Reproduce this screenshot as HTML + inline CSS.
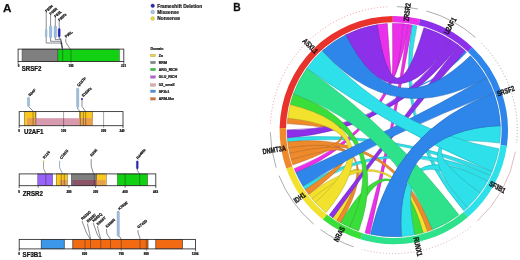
<!DOCTYPE html><html><head><meta charset="utf-8"><title>Figure</title><style>html,body{margin:0;padding:0;background:#fff}body{width:520px;height:260px;overflow:hidden;font-family:"Liberation Sans",sans-serif}</style></head><body><svg width="520" height="260" viewBox="0 0 520 260" style="display:block;filter:blur(0.3px)">
<rect width="520" height="260" fill="#fff"/>
<g font-family="Liberation Sans, Arial, sans-serif">
<text x="3" y="11.5" font-size="11.7" font-weight="bold" text-anchor="start" fill="#111" stroke="#111" stroke-width="0.25" stroke-linejoin="round">A</text>
<text  transform="translate(233.3 11.2) scale(0.92 1)" font-size="11.2" font-weight="bold" text-anchor="start" fill="#111" stroke="#111" stroke-width="0.25" stroke-linejoin="round">B</text>
<circle cx="152.7" cy="5.8" r="1.75" fill="#2a2ab4" stroke="#20208c" stroke-width="0.5"/>
<text x="157.3" y="7.5" font-size="4.8" font-weight="bold" text-anchor="start" fill="#222" stroke="#111" stroke-width="0.2" stroke-linejoin="round">Frameshift Deletion</text>
<circle cx="152.7" cy="12.0" r="1.75" fill="#aecbee" stroke="#6484a8" stroke-width="0.5"/>
<text x="157.3" y="13.7" font-size="4.8" font-weight="bold" text-anchor="start" fill="#222" stroke="#111" stroke-width="0.2" stroke-linejoin="round">Missense</text>
<circle cx="152.7" cy="18.5" r="1.75" fill="#f2e22c" stroke="#a09a30" stroke-width="0.5"/>
<text x="157.3" y="20.2" font-size="4.8" font-weight="bold" text-anchor="start" fill="#222" stroke="#111" stroke-width="0.2" stroke-linejoin="round">Nonsense</text>
<text x="150.5" y="50" font-size="3.5" font-weight="bold" text-anchor="start" fill="#222" stroke="#111" stroke-width="0.22" stroke-linejoin="round">Domain</text>
<rect x="150.5" y="54.2" width="5" height="2.6" fill="#f7d23c" stroke="#888" stroke-width="0.3"/>
<text x="158.7" y="56.8" font-size="3.6" font-weight="bold" text-anchor="start" fill="#222" stroke="#111" stroke-width="0.22" stroke-linejoin="round">Zn</text>
<rect x="150.5" y="61.2" width="5" height="2.6" fill="#7c848c" stroke="#888" stroke-width="0.3"/>
<text x="158.7" y="63.8" font-size="3.6" font-weight="bold" text-anchor="start" fill="#222" stroke="#111" stroke-width="0.22" stroke-linejoin="round">RRM</text>
<rect x="150.5" y="68.2" width="5" height="2.6" fill="#2cc43c" stroke="#888" stroke-width="0.3"/>
<text x="158.7" y="70.8" font-size="3.6" font-weight="bold" text-anchor="start" fill="#222" stroke="#111" stroke-width="0.22" stroke-linejoin="round">ARG_RICH</text>
<rect x="150.5" y="75.7" width="5" height="2.6" fill="#bc58e2" stroke="#888" stroke-width="0.3"/>
<text x="158.7" y="78.3" font-size="3.6" font-weight="bold" text-anchor="start" fill="#222" stroke="#111" stroke-width="0.22" stroke-linejoin="round">GLU_RICH</text>
<rect x="150.5" y="83.7" width="5" height="2.6" fill="#e2aaa2" stroke="#888" stroke-width="0.3"/>
<text x="158.7" y="86.3" font-size="3.6" font-weight="bold" text-anchor="start" fill="#222" stroke="#111" stroke-width="0.22" stroke-linejoin="round">U2_small</text>
<rect x="150.5" y="90" width="5" height="2.6" fill="#3f92e4" stroke="#888" stroke-width="0.3"/>
<text x="158.7" y="92.6" font-size="3.6" font-weight="bold" text-anchor="start" fill="#222" stroke="#111" stroke-width="0.22" stroke-linejoin="round">SF3b1</text>
<rect x="150.5" y="97.5" width="5" height="2.6" fill="#e2702c" stroke="#888" stroke-width="0.3"/>
<text x="158.7" y="100.1" font-size="3.6" font-weight="bold" text-anchor="start" fill="#222" stroke="#111" stroke-width="0.22" stroke-linejoin="round">ARM-like</text>
<rect x="18.1" y="49.1" width="105.7" height="12.4" fill="#fff"/>
<rect x="22" y="49.1" width="35.9" height="12.4" fill="#7f7f7f" stroke="#2b2b33" stroke-width="0.35"/>
<rect x="57.9" y="49.1" width="61.6" height="12.4" fill="#12d012" stroke="#2b2b33" stroke-width="0.35"/>
<rect x="18.1" y="49.1" width="105.7" height="12.4" fill="none" stroke="#2a2a2a" stroke-width="0.85"/>
<line x1="62.7" y1="49.1" x2="62.7" y2="61.5" stroke="#1a3" stroke-width="0.4"/>
<line x1="62.7" y1="49.1" x2="62.7" y2="61.5" stroke="#222" stroke-width="0.35"/>
<line x1="71" y1="49.1" x2="71" y2="63.5" stroke="#222" stroke-width="0.4"/>
<line x1="18.1" y1="61.5" x2="18.1" y2="63.9" stroke="#222" stroke-width="0.7"/>
<line x1="123.8" y1="61.5" x2="123.8" y2="63.9" stroke="#222" stroke-width="0.7"/>
<text x="18.6" y="66.8" font-size="3.0" font-weight="bold" text-anchor="middle" fill="#111" stroke="#111" stroke-width="0.22" stroke-linejoin="round">0</text>
<text x="71" y="66.6" font-size="3.0" font-weight="bold" text-anchor="middle" fill="#111" stroke="#111" stroke-width="0.22" stroke-linejoin="round">100</text>
<text x="123.6" y="66.6" font-size="3.0" font-weight="bold" text-anchor="middle" fill="#111" stroke="#111" stroke-width="0.22" stroke-linejoin="round">221</text>
<text  transform="translate(21.7 71.2) scale(0.93 1)" font-size="6.6" font-weight="bold" text-anchor="start" fill="#111" stroke="#111" stroke-width="0.25" stroke-linejoin="round">SRSF2</text>
<polyline points="46.2,12.3 46.2,43 60.8,43 62.6,49.1" fill="none" stroke="#3c4250" stroke-width="0.6"/>
<rect x="45.35" y="29.2" width="1.7" height="7.8" rx="0.85" fill="#b9cfe6" stroke="#6f8fb0" stroke-width="0.35"/><line x1="45.35" y1="30.5" x2="47.05" y2="30.5" stroke="#6f8fb0" stroke-width="0.25" stroke-opacity="0.7"/><line x1="45.35" y1="31.8" x2="47.05" y2="31.8" stroke="#6f8fb0" stroke-width="0.25" stroke-opacity="0.7"/><line x1="45.35" y1="33.1" x2="47.05" y2="33.1" stroke="#6f8fb0" stroke-width="0.25" stroke-opacity="0.7"/><line x1="45.35" y1="34.4" x2="47.05" y2="34.4" stroke="#6f8fb0" stroke-width="0.25" stroke-opacity="0.7"/><line x1="45.35" y1="35.7" x2="47.05" y2="35.7" stroke="#6f8fb0" stroke-width="0.25" stroke-opacity="0.7"/>
<text  transform="translate(46.4 12.5) rotate(-41)" font-size="3.7" font-weight="bold" text-anchor="start" fill="#222" stroke="#111" stroke-width="0.22" stroke-linejoin="round">P95H</text>
<polyline points="50.6,15 50.6,41.3 60.8,41.3 62.6,49.1" fill="none" stroke="#3c4250" stroke-width="0.6"/>
<rect x="49.45" y="25.8" width="2.3" height="12.1" rx="1.15" fill="#a9c6e6" stroke="#5f86b4" stroke-width="0.35"/><line x1="49.45" y1="27.14" x2="51.75" y2="27.14" stroke="#5f86b4" stroke-width="0.25" stroke-opacity="0.7"/><line x1="49.45" y1="28.49" x2="51.75" y2="28.49" stroke="#5f86b4" stroke-width="0.25" stroke-opacity="0.7"/><line x1="49.45" y1="29.83" x2="51.75" y2="29.83" stroke="#5f86b4" stroke-width="0.25" stroke-opacity="0.7"/><line x1="49.45" y1="31.18" x2="51.75" y2="31.18" stroke="#5f86b4" stroke-width="0.25" stroke-opacity="0.7"/><line x1="49.45" y1="32.52" x2="51.75" y2="32.52" stroke="#5f86b4" stroke-width="0.25" stroke-opacity="0.7"/><line x1="49.45" y1="33.87" x2="51.75" y2="33.87" stroke="#5f86b4" stroke-width="0.25" stroke-opacity="0.7"/><line x1="49.45" y1="35.21" x2="51.75" y2="35.21" stroke="#5f86b4" stroke-width="0.25" stroke-opacity="0.7"/><line x1="49.45" y1="36.56" x2="51.75" y2="36.56" stroke="#5f86b4" stroke-width="0.25" stroke-opacity="0.7"/>
<text  transform="translate(50.8 15.2) rotate(-41)" font-size="3.7" font-weight="bold" text-anchor="start" fill="#222" stroke="#111" stroke-width="0.22" stroke-linejoin="round">P95R</text>
<polyline points="55.3,17.6 55.3,39.6 60.8,39.6 62.6,49.1" fill="none" stroke="#3c4250" stroke-width="0.6"/>
<rect x="54.15" y="25.8" width="2.3" height="12.1" rx="1.15" fill="#a9c6e6" stroke="#5f86b4" stroke-width="0.35"/><line x1="54.15" y1="27.14" x2="56.45" y2="27.14" stroke="#5f86b4" stroke-width="0.25" stroke-opacity="0.7"/><line x1="54.15" y1="28.49" x2="56.45" y2="28.49" stroke="#5f86b4" stroke-width="0.25" stroke-opacity="0.7"/><line x1="54.15" y1="29.83" x2="56.45" y2="29.83" stroke="#5f86b4" stroke-width="0.25" stroke-opacity="0.7"/><line x1="54.15" y1="31.18" x2="56.45" y2="31.18" stroke="#5f86b4" stroke-width="0.25" stroke-opacity="0.7"/><line x1="54.15" y1="32.52" x2="56.45" y2="32.52" stroke="#5f86b4" stroke-width="0.25" stroke-opacity="0.7"/><line x1="54.15" y1="33.87" x2="56.45" y2="33.87" stroke="#5f86b4" stroke-width="0.25" stroke-opacity="0.7"/><line x1="54.15" y1="35.21" x2="56.45" y2="35.21" stroke="#5f86b4" stroke-width="0.25" stroke-opacity="0.7"/><line x1="54.15" y1="36.56" x2="56.45" y2="36.56" stroke="#5f86b4" stroke-width="0.25" stroke-opacity="0.7"/>
<text  transform="translate(55.5 17.8) rotate(-41)" font-size="3.7" font-weight="bold" text-anchor="start" fill="#222" stroke="#111" stroke-width="0.22" stroke-linejoin="round">P95L</text>
<polyline points="59.2,21.2 59.2,38.7 60.8,38.7 62.6,49.1" fill="none" stroke="#3c4250" stroke-width="0.6"/>
<rect x="58.2" y="28.4" width="2" height="8.6" rx="1" fill="#2a2ac4" stroke="#1a1a90" stroke-width="0.35"/><line x1="58.2" y1="29.83" x2="60.2" y2="29.83" stroke="#1a1a90" stroke-width="0.25" stroke-opacity="0.7"/><line x1="58.2" y1="31.27" x2="60.2" y2="31.27" stroke="#1a1a90" stroke-width="0.25" stroke-opacity="0.7"/><line x1="58.2" y1="32.7" x2="60.2" y2="32.7" stroke="#1a1a90" stroke-width="0.25" stroke-opacity="0.7"/><line x1="58.2" y1="34.13" x2="60.2" y2="34.13" stroke="#1a1a90" stroke-width="0.25" stroke-opacity="0.7"/><line x1="58.2" y1="35.57" x2="60.2" y2="35.57" stroke="#1a1a90" stroke-width="0.25" stroke-opacity="0.7"/>
<text  transform="translate(59.4 21.4) rotate(-41)" font-size="3.7" font-weight="bold" text-anchor="start" fill="#222" stroke="#111" stroke-width="0.22" stroke-linejoin="round">P95fs</text>
<circle cx="61.6" cy="43.2" r="0.7" fill="#223"/>
<polyline points="70.2,49.1 65.8,42.2 65.8,38.7" fill="none" stroke="#3c4250" stroke-width="0.6"/>
<text  transform="translate(66 38) rotate(-38)" font-size="3.7" font-weight="bold" text-anchor="start" fill="#222" stroke="#111" stroke-width="0.22" stroke-linejoin="round">P96L</text>
<rect x="19.2" y="111.6" width="103.8" height="14.1" fill="#fff"/>
<rect x="24.3" y="111.6" width="11.6" height="14.1" fill="#fcc81e" stroke="#2b2b33" stroke-width="0.35"/>
<rect x="79.3" y="111.6" width="13.4" height="14.1" fill="#fcc81e" stroke="#2b2b33" stroke-width="0.35"/>
<rect x="27.3" y="118.2" width="65.4" height="7.5" fill="#d79aae"/>
<rect x="27.3" y="118.2" width="8.6" height="7.5" fill="#e9a04c"/>
<rect x="79.3" y="118.2" width="13.4" height="7.5" fill="#e9a04c"/>
<rect x="19.2" y="111.6" width="103.8" height="14.1" fill="none" stroke="#2a2a2a" stroke-width="0.85"/>
<line x1="33.1" y1="111.6" x2="33.1" y2="125.7" stroke="#222" stroke-width="0.4"/>
<line x1="35.9" y1="111.6" x2="35.9" y2="125.7" stroke="#222" stroke-width="0.4"/>
<line x1="80.4" y1="111.6" x2="80.4" y2="125.7" stroke="#222" stroke-width="0.4"/>
<line x1="83.4" y1="111.6" x2="83.4" y2="125.7" stroke="#222" stroke-width="0.4"/>
<line x1="85.7" y1="111.6" x2="85.7" y2="125.7" stroke="#222" stroke-width="0.4"/>
<line x1="63.6" y1="111.6" x2="63.6" y2="127.7" stroke="#222" stroke-width="0.4"/>
<line x1="103.6" y1="111.6" x2="103.6" y2="127.7" stroke="#222" stroke-width="0.4"/>
<line x1="19.2" y1="125.7" x2="19.2" y2="128.1" stroke="#222" stroke-width="0.7"/>
<line x1="123" y1="125.7" x2="123" y2="128.1" stroke="#222" stroke-width="0.7"/>
<text x="19.2" y="131.6" font-size="3.0" font-weight="bold" text-anchor="middle" fill="#111" stroke="#111" stroke-width="0.22" stroke-linejoin="round">0</text>
<text x="63.6" y="131.6" font-size="3.0" font-weight="bold" text-anchor="middle" fill="#111" stroke="#111" stroke-width="0.22" stroke-linejoin="round">100</text>
<text x="103.6" y="131.6" font-size="3.0" font-weight="bold" text-anchor="middle" fill="#111" stroke="#111" stroke-width="0.22" stroke-linejoin="round">200</text>
<text x="122" y="131.6" font-size="3.0" font-weight="bold" text-anchor="middle" fill="#111" stroke="#111" stroke-width="0.22" stroke-linejoin="round">240</text>
<text  transform="translate(24 133.9) scale(0.93 1)" font-size="6.6" font-weight="bold" text-anchor="start" fill="#111" stroke="#111" stroke-width="0.25" stroke-linejoin="round">U2AF1</text>
<polyline points="28.5,106.5 33.6,111.6" fill="none" stroke="#3c4250" stroke-width="0.6"/>
<rect x="27.45" y="97.2" width="2.1" height="9.4" rx="1.05" fill="#a9c6e6" stroke="#6f8fb0" stroke-width="0.35"/><line x1="27.45" y1="98.54" x2="29.55" y2="98.54" stroke="#6f8fb0" stroke-width="0.25" stroke-opacity="0.7"/><line x1="27.45" y1="99.89" x2="29.55" y2="99.89" stroke="#6f8fb0" stroke-width="0.25" stroke-opacity="0.7"/><line x1="27.45" y1="101.23" x2="29.55" y2="101.23" stroke="#6f8fb0" stroke-width="0.25" stroke-opacity="0.7"/><line x1="27.45" y1="102.57" x2="29.55" y2="102.57" stroke="#6f8fb0" stroke-width="0.25" stroke-opacity="0.7"/><line x1="27.45" y1="103.91" x2="29.55" y2="103.91" stroke="#6f8fb0" stroke-width="0.25" stroke-opacity="0.7"/><line x1="27.45" y1="105.26" x2="29.55" y2="105.26" stroke="#6f8fb0" stroke-width="0.25" stroke-opacity="0.7"/>
<text  transform="translate(29.8 96.6) rotate(-44)" font-size="3.7" font-weight="bold" text-anchor="start" fill="#222" stroke="#111" stroke-width="0.22" stroke-linejoin="round">S34F</text>
<polyline points="77.7,107.7 77.7,109.2 80.4,111.6" fill="none" stroke="#3c4250" stroke-width="0.6"/>
<rect x="76.6" y="88" width="2.2" height="19.7" rx="1.1" fill="#a9c6e6" stroke="#6f8fb0" stroke-width="0.35"/><line x1="76.6" y1="89.31" x2="78.8" y2="89.31" stroke="#6f8fb0" stroke-width="0.25" stroke-opacity="0.7"/><line x1="76.6" y1="90.63" x2="78.8" y2="90.63" stroke="#6f8fb0" stroke-width="0.25" stroke-opacity="0.7"/><line x1="76.6" y1="91.94" x2="78.8" y2="91.94" stroke="#6f8fb0" stroke-width="0.25" stroke-opacity="0.7"/><line x1="76.6" y1="93.25" x2="78.8" y2="93.25" stroke="#6f8fb0" stroke-width="0.25" stroke-opacity="0.7"/><line x1="76.6" y1="94.57" x2="78.8" y2="94.57" stroke="#6f8fb0" stroke-width="0.25" stroke-opacity="0.7"/><line x1="76.6" y1="95.88" x2="78.8" y2="95.88" stroke="#6f8fb0" stroke-width="0.25" stroke-opacity="0.7"/><line x1="76.6" y1="97.19" x2="78.8" y2="97.19" stroke="#6f8fb0" stroke-width="0.25" stroke-opacity="0.7"/><line x1="76.6" y1="98.51" x2="78.8" y2="98.51" stroke="#6f8fb0" stroke-width="0.25" stroke-opacity="0.7"/><line x1="76.6" y1="99.82" x2="78.8" y2="99.82" stroke="#6f8fb0" stroke-width="0.25" stroke-opacity="0.7"/><line x1="76.6" y1="101.13" x2="78.8" y2="101.13" stroke="#6f8fb0" stroke-width="0.25" stroke-opacity="0.7"/><line x1="76.6" y1="102.45" x2="78.8" y2="102.45" stroke="#6f8fb0" stroke-width="0.25" stroke-opacity="0.7"/><line x1="76.6" y1="103.76" x2="78.8" y2="103.76" stroke="#6f8fb0" stroke-width="0.25" stroke-opacity="0.7"/><line x1="76.6" y1="105.07" x2="78.8" y2="105.07" stroke="#6f8fb0" stroke-width="0.25" stroke-opacity="0.7"/><line x1="76.6" y1="106.39" x2="78.8" y2="106.39" stroke="#6f8fb0" stroke-width="0.25" stroke-opacity="0.7"/>
<text  transform="translate(78.4 86.8) rotate(-45)" font-size="3.7" font-weight="bold" text-anchor="start" fill="#222" stroke="#111" stroke-width="0.22" stroke-linejoin="round">Q157P</text>
<polyline points="82,98.9 82,106.5 85.7,111.6" fill="none" stroke="#3c4250" stroke-width="0.6"/>
<circle cx="82" cy="98.9" r="1.0" fill="#2a2ac4"/>
<text  transform="translate(83.2 97) rotate(-43)" font-size="3.7" font-weight="bold" text-anchor="start" fill="#222" stroke="#111" stroke-width="0.22" stroke-linejoin="round">E159fs</text>
<rect x="19.2" y="173.9" width="136.6" height="11.8" fill="#fff"/>
<rect x="37.7" y="173.9" width="15" height="11.8" fill="#9a63f7" stroke="#2b2b33" stroke-width="0.35"/>
<rect x="56.2" y="173.9" width="11.1" height="11.8" fill="#fcc81e" stroke="#2b2b33" stroke-width="0.35"/>
<rect x="59.7" y="180" width="7.6" height="5.7" fill="#e9a04c"/>
<rect x="71.2" y="173.9" width="25.4" height="11.8" fill="#7f7f7f" stroke="#2b2b33" stroke-width="0.35"/>
<rect x="72.4" y="180" width="24.2" height="5.7" fill="#8a5466"/>
<rect x="96.6" y="173.9" width="9.6" height="11.8" fill="#fcc81e" stroke="#2b2b33" stroke-width="0.35"/>
<rect x="96.6" y="180" width="8.7" height="5.7" fill="#e9a04c"/>
<rect x="117.3" y="173.9" width="30.4" height="11.8" fill="#12d012" stroke="#2b2b33" stroke-width="0.35"/>
<rect x="19.2" y="173.9" width="136.6" height="11.8" fill="none" stroke="#2a2a2a" stroke-width="0.85"/>
<line x1="45.8" y1="173.9" x2="45.8" y2="185.7" stroke="#222" stroke-width="0.4"/>
<line x1="61.3" y1="173.9" x2="61.3" y2="185.7" stroke="#222" stroke-width="0.4"/>
<line x1="64.3" y1="173.9" x2="64.3" y2="185.7" stroke="#222" stroke-width="0.4"/>
<line x1="94.3" y1="173.9" x2="94.3" y2="185.7" stroke="#222" stroke-width="0.4"/>
<line x1="139.7" y1="173.9" x2="139.7" y2="185.7" stroke="#222" stroke-width="0.4"/>
<line x1="38.2" y1="185.7" x2="38.2" y2="187.9" stroke="#222" stroke-width="0.6"/>
<line x1="68.9" y1="185.7" x2="68.9" y2="187.9" stroke="#222" stroke-width="0.6"/>
<line x1="95.6" y1="185.7" x2="95.6" y2="187.9" stroke="#222" stroke-width="0.6"/>
<line x1="125.1" y1="185.7" x2="125.1" y2="187.9" stroke="#222" stroke-width="0.6"/>
<line x1="125.1" y1="173.9" x2="125.1" y2="185.7" stroke="#222" stroke-width="0.4"/>
<line x1="19.2" y1="185.7" x2="19.2" y2="188.1" stroke="#222" stroke-width="0.7"/>
<line x1="155.8" y1="185.7" x2="155.8" y2="188.1" stroke="#222" stroke-width="0.7"/>
<text x="19.2" y="192.8" font-size="3.0" font-weight="bold" text-anchor="middle" fill="#111" stroke="#111" stroke-width="0.22" stroke-linejoin="round">0</text>
<text x="68.9" y="192.8" font-size="3.0" font-weight="bold" text-anchor="middle" fill="#111" stroke="#111" stroke-width="0.22" stroke-linejoin="round">200</text>
<text x="95.6" y="192.8" font-size="3.0" font-weight="bold" text-anchor="middle" fill="#111" stroke="#111" stroke-width="0.22" stroke-linejoin="round">300</text>
<text x="125.1" y="192.8" font-size="3.0" font-weight="bold" text-anchor="middle" fill="#111" stroke="#111" stroke-width="0.22" stroke-linejoin="round">400</text>
<text x="155.6" y="192.8" font-size="3.0" font-weight="bold" text-anchor="middle" fill="#111" stroke="#111" stroke-width="0.22" stroke-linejoin="round">482</text>
<text  transform="translate(22.8 195.7) scale(0.93 1)" font-size="6.6" font-weight="bold" text-anchor="start" fill="#111" stroke="#111" stroke-width="0.25" stroke-linejoin="round">ZRSR2</text>
<polyline points="43.5,160.8 43.5,168.5 46,173.9" fill="none" stroke="#6a6a58" stroke-width="0.6"/>
<circle cx="43.5" cy="161.2" r="0.8" fill="#f3e32a" stroke="#aa9" stroke-width="0.2"/>
<text  transform="translate(44.6 159) rotate(-50)" font-size="3.7" font-weight="bold" text-anchor="start" fill="#222" stroke="#111" stroke-width="0.22" stroke-linejoin="round">R126</text>
<polyline points="59.6,160.8 59.6,167.7 62.7,173.9" fill="none" stroke="#5070a0" stroke-width="0.6"/>
<text  transform="translate(61.4 159.4) rotate(-50)" font-size="3.7" font-weight="bold" text-anchor="start" fill="#222" stroke="#111" stroke-width="0.22" stroke-linejoin="round">C181S</text>
<polyline points="91.2,159.2 91.2,166.2 93.6,173.9" fill="none" stroke="#3c4250" stroke-width="0.6"/>
<text  transform="translate(91.8 156.8) rotate(-48)" font-size="3.7" font-weight="bold" text-anchor="start" fill="#222" stroke="#111" stroke-width="0.22" stroke-linejoin="round">R295</text>
<polyline points="137.3,168.9 137.3,170.5 139.7,173.9" fill="none" stroke="#3c4250" stroke-width="0.6"/>
<rect x="136.4" y="160.8" width="1.8" height="8.1" rx="0.9" fill="#2a2ac4" stroke="#1a1a90" stroke-width="0.35"/><line x1="136.4" y1="162.15" x2="138.2" y2="162.15" stroke="#1a1a90" stroke-width="0.25" stroke-opacity="0.7"/><line x1="136.4" y1="163.5" x2="138.2" y2="163.5" stroke="#1a1a90" stroke-width="0.25" stroke-opacity="0.7"/><line x1="136.4" y1="164.85" x2="138.2" y2="164.85" stroke="#1a1a90" stroke-width="0.25" stroke-opacity="0.7"/><line x1="136.4" y1="166.2" x2="138.2" y2="166.2" stroke="#1a1a90" stroke-width="0.25" stroke-opacity="0.7"/><line x1="136.4" y1="167.55" x2="138.2" y2="167.55" stroke="#1a1a90" stroke-width="0.25" stroke-opacity="0.7"/>
<text  transform="translate(137.9 159.4) rotate(-49)" font-size="3.7" font-weight="bold" text-anchor="start" fill="#222" stroke="#111" stroke-width="0.22" stroke-linejoin="round">R448fs</text>
<rect x="19.2" y="239.4" width="176.3" height="9.5" fill="#fff"/>
<rect x="41.2" y="239.4" width="23.1" height="9.5" fill="#3c96ea" stroke="#2b2b33" stroke-width="0.35"/>
<rect x="72.8" y="239.4" width="75.2" height="9.5" fill="#f26a12" stroke="#2b2b33" stroke-width="0.35"/>
<rect x="155.8" y="239.4" width="26.7" height="9.5" fill="#f26a12" stroke="#2b2b33" stroke-width="0.35"/>
<rect x="19.2" y="239.4" width="176.3" height="9.5" fill="none" stroke="#2a2a2a" stroke-width="0.85"/>
<line x1="41.2" y1="239.4" x2="41.2" y2="248.9" stroke="#222" stroke-width="0.35"/>
<line x1="64.3" y1="239.4" x2="64.3" y2="248.9" stroke="#222" stroke-width="0.35"/>
<line x1="72.8" y1="239.4" x2="72.8" y2="248.9" stroke="#222" stroke-width="0.35"/>
<line x1="148" y1="239.4" x2="148" y2="248.9" stroke="#222" stroke-width="0.35"/>
<line x1="155.8" y1="239.4" x2="155.8" y2="248.9" stroke="#222" stroke-width="0.35"/>
<line x1="182.5" y1="239.4" x2="182.5" y2="248.9" stroke="#222" stroke-width="0.35"/>
<line x1="90.5" y1="239.4" x2="90.5" y2="248.9" stroke="#222" stroke-width="0.4"/>
<line x1="100.75" y1="239.4" x2="100.75" y2="248.9" stroke="#222" stroke-width="0.4"/>
<line x1="110.5" y1="239.4" x2="110.5" y2="248.9" stroke="#222" stroke-width="0.4"/>
<line x1="140" y1="239.4" x2="140" y2="248.9" stroke="#222" stroke-width="0.4"/>
<line x1="85" y1="239.4" x2="85" y2="250.9" stroke="#222" stroke-width="0.4"/>
<line x1="121.25" y1="239.4" x2="121.25" y2="250.9" stroke="#222" stroke-width="0.4"/>
<line x1="146.25" y1="239.4" x2="146.25" y2="250.9" stroke="#222" stroke-width="0.4"/>
<line x1="19.2" y1="248.9" x2="19.2" y2="251.3" stroke="#222" stroke-width="0.7"/>
<line x1="195.5" y1="248.9" x2="195.5" y2="251.3" stroke="#222" stroke-width="0.7"/>
<text x="19.2" y="254.6" font-size="3.0" font-weight="bold" text-anchor="middle" fill="#111" stroke="#111" stroke-width="0.22" stroke-linejoin="round">0</text>
<text x="84.6" y="254.6" font-size="3.0" font-weight="bold" text-anchor="middle" fill="#111" stroke="#111" stroke-width="0.22" stroke-linejoin="round">600</text>
<text x="121.25" y="254.6" font-size="3.0" font-weight="bold" text-anchor="middle" fill="#111" stroke="#111" stroke-width="0.22" stroke-linejoin="round">700</text>
<text x="146.25" y="254.6" font-size="3.0" font-weight="bold" text-anchor="middle" fill="#111" stroke="#111" stroke-width="0.22" stroke-linejoin="round">800</text>
<text x="195" y="254.6" font-size="3.0" font-weight="bold" text-anchor="middle" fill="#111" stroke="#111" stroke-width="0.22" stroke-linejoin="round">1304</text>
<text  transform="translate(22.6 257) scale(0.93 1)" font-size="6.6" font-weight="bold" text-anchor="start" fill="#111" stroke="#111" stroke-width="0.25" stroke-linejoin="round">SF3B1</text>
<polyline points="82,221 86.5,233 90.4,239.4" fill="none" stroke="#3c4250" stroke-width="0.6"/>
<text  transform="translate(82.6 220.2) rotate(-42)" font-size="3.7" font-weight="bold" text-anchor="start" fill="#222" stroke="#111" stroke-width="0.22" stroke-linejoin="round">R625G</text>
<polyline points="87.4,223.6 89.5,233.5 90.6,239.4" fill="none" stroke="#3c4250" stroke-width="0.6"/>
<text  transform="translate(88 222.8) rotate(-42)" font-size="3.7" font-weight="bold" text-anchor="start" fill="#222" stroke="#111" stroke-width="0.22" stroke-linejoin="round">R625C</text>
<polyline points="93.2,223 97.5,235 100.7,239.4" fill="none" stroke="#3c4250" stroke-width="0.6"/>
<text  transform="translate(93.8 222.2) rotate(-42)" font-size="3.7" font-weight="bold" text-anchor="start" fill="#222" stroke="#111" stroke-width="0.22" stroke-linejoin="round">H662Q</text>
<polyline points="97.4,226 99,233 100.9,239.4" fill="none" stroke="#3c4250" stroke-width="0.6"/>
<text  transform="translate(98 225.6) rotate(-42)" font-size="3.7" font-weight="bold" text-anchor="start" fill="#222" stroke="#111" stroke-width="0.22" stroke-linejoin="round">K666T</text>
<polyline points="106.4,229 107,234 110.5,239.4" fill="none" stroke="#3c4250" stroke-width="0.6"/>
<text  transform="translate(107 228) rotate(-42)" font-size="3.7" font-weight="bold" text-anchor="start" fill="#222" stroke="#111" stroke-width="0.22" stroke-linejoin="round">K666N</text>
<polyline points="118.2,236.2 119.6,236.4 121.25,239.4" fill="none" stroke="#3c4250" stroke-width="0.6"/>
<rect x="117.05" y="211" width="2.3" height="25.2" rx="1.15" fill="#a9c6e6" stroke="#6f8fb0" stroke-width="0.35"/><line x1="117.05" y1="212.33" x2="119.35" y2="212.33" stroke="#6f8fb0" stroke-width="0.25" stroke-opacity="0.7"/><line x1="117.05" y1="213.65" x2="119.35" y2="213.65" stroke="#6f8fb0" stroke-width="0.25" stroke-opacity="0.7"/><line x1="117.05" y1="214.98" x2="119.35" y2="214.98" stroke="#6f8fb0" stroke-width="0.25" stroke-opacity="0.7"/><line x1="117.05" y1="216.31" x2="119.35" y2="216.31" stroke="#6f8fb0" stroke-width="0.25" stroke-opacity="0.7"/><line x1="117.05" y1="217.63" x2="119.35" y2="217.63" stroke="#6f8fb0" stroke-width="0.25" stroke-opacity="0.7"/><line x1="117.05" y1="218.96" x2="119.35" y2="218.96" stroke="#6f8fb0" stroke-width="0.25" stroke-opacity="0.7"/><line x1="117.05" y1="220.28" x2="119.35" y2="220.28" stroke="#6f8fb0" stroke-width="0.25" stroke-opacity="0.7"/><line x1="117.05" y1="221.61" x2="119.35" y2="221.61" stroke="#6f8fb0" stroke-width="0.25" stroke-opacity="0.7"/><line x1="117.05" y1="222.94" x2="119.35" y2="222.94" stroke="#6f8fb0" stroke-width="0.25" stroke-opacity="0.7"/><line x1="117.05" y1="224.26" x2="119.35" y2="224.26" stroke="#6f8fb0" stroke-width="0.25" stroke-opacity="0.7"/><line x1="117.05" y1="225.59" x2="119.35" y2="225.59" stroke="#6f8fb0" stroke-width="0.25" stroke-opacity="0.7"/><line x1="117.05" y1="226.92" x2="119.35" y2="226.92" stroke="#6f8fb0" stroke-width="0.25" stroke-opacity="0.7"/><line x1="117.05" y1="228.24" x2="119.35" y2="228.24" stroke="#6f8fb0" stroke-width="0.25" stroke-opacity="0.7"/><line x1="117.05" y1="229.57" x2="119.35" y2="229.57" stroke="#6f8fb0" stroke-width="0.25" stroke-opacity="0.7"/><line x1="117.05" y1="230.89" x2="119.35" y2="230.89" stroke="#6f8fb0" stroke-width="0.25" stroke-opacity="0.7"/><line x1="117.05" y1="232.22" x2="119.35" y2="232.22" stroke="#6f8fb0" stroke-width="0.25" stroke-opacity="0.7"/><line x1="117.05" y1="233.55" x2="119.35" y2="233.55" stroke="#6f8fb0" stroke-width="0.25" stroke-opacity="0.7"/><line x1="117.05" y1="234.87" x2="119.35" y2="234.87" stroke="#6f8fb0" stroke-width="0.25" stroke-opacity="0.7"/>
<text  transform="translate(119.4 210.2) rotate(-39)" font-size="3.7" font-weight="bold" text-anchor="start" fill="#222" stroke="#111" stroke-width="0.22" stroke-linejoin="round">K700E</text>
<polyline points="137.9,230 138.1,233 140.4,239.4" fill="none" stroke="#3c4250" stroke-width="0.6"/>
<text  transform="translate(138.6 228.6) rotate(-39)" font-size="3.7" font-weight="bold" text-anchor="start" fill="#222" stroke="#111" stroke-width="0.22" stroke-linejoin="round">G742D</text>
</g>
<path d="M279.62 128.11A114.20 114.20 0 0 1 392.80 15.90L392.86 22.30A107.80 107.80 0 0 0 286.02 128.22Z" fill="#e8322c"/>
<path d="M392.80 15.90A114.20 114.20 0 0 1 420.07 18.96L418.60 25.19A107.80 107.80 0 0 0 392.86 22.30Z" fill="#ea30ea"/>
<path d="M420.07 18.96A114.20 114.20 0 0 1 472.27 47.13L467.87 51.78A107.80 107.80 0 0 0 418.60 25.19Z" fill="#8c30ea"/>
<path d="M472.27 47.13A114.20 114.20 0 0 1 506.89 145.99L500.55 145.10A107.80 107.80 0 0 0 467.87 51.78Z" fill="#2e86ea"/>
<path d="M506.89 145.99A114.20 114.20 0 0 1 467.97 216.94L463.81 212.07A107.80 107.80 0 0 0 500.55 145.10Z" fill="#2ee0ea"/>
<path d="M467.97 216.94A114.20 114.20 0 0 1 360.41 239.31L362.28 233.19A107.80 107.80 0 0 0 463.81 212.07Z" fill="#2ee28c"/>
<path d="M360.41 239.31A114.20 114.20 0 0 1 322.86 219.60L326.84 214.58A107.80 107.80 0 0 0 362.28 233.19Z" fill="#3ade3a"/>
<path d="M322.86 219.60A114.20 114.20 0 0 1 286.28 168.60L292.31 166.44A107.80 107.80 0 0 0 326.84 214.58Z" fill="#f2e22e"/>
<path d="M286.28 168.60A114.20 114.20 0 0 1 279.62 128.11L286.02 128.22A107.80 107.80 0 0 0 292.31 166.44Z" fill="#ee8a2c"/>
<path d="M465.20 50.81A106.70 106.70 0 0 1 466.84 52.32Q393.80 130.10 322.68 50.56A106.70 106.70 0 0 1 324.36 49.09Q393.80 130.10 465.20 50.81Z" fill="#2e86ea"/>
<path d="M492.16 171.45A106.70 106.70 0 0 1 490.35 175.53Q393.80 130.10 287.76 141.99A106.70 106.70 0 0 1 287.37 137.73Q393.80 130.10 492.16 171.45Z" fill="#2ee0ea" stroke="#23aeb6" stroke-width="0.55" stroke-linejoin="round"/>
<path d="M408.28 24.39A106.70 106.70 0 0 1 412.33 25.02Q393.80 130.10 369.80 234.07A106.70 106.70 0 0 1 365.11 232.87Q393.80 130.10 408.28 24.39Z" fill="#ea30ea" stroke="#b625b6" stroke-width="0.55" stroke-linejoin="round"/>
<path d="M467.38 207.37A106.70 106.70 0 0 1 463.80 210.63Q393.80 130.10 412.33 25.02A106.70 106.70 0 0 1 416.89 25.93Q393.80 130.10 467.38 207.37Z" fill="#2ee0ea" stroke="#23aeb6" stroke-width="0.55" stroke-linejoin="round"/>
<path d="M403.10 23.81A106.70 106.70 0 0 1 408.28 24.39Q393.80 130.10 296.02 172.82A106.70 106.70 0 0 1 294.32 168.69Q393.80 130.10 403.10 23.81Z" fill="#ea30ea" stroke="#b625b6" stroke-width="0.55" stroke-linejoin="round"/>
<path d="M315.51 202.60A106.70 106.70 0 0 1 312.06 198.69Q393.80 130.10 336.94 220.39A106.70 106.70 0 0 1 332.90 217.72Q393.80 130.10 315.51 202.60Z" fill="#f2e22e" stroke="#bcb023" stroke-width="0.55" stroke-linejoin="round"/>
<path d="M289.67 153.38A106.70 106.70 0 0 1 288.59 147.89Q393.80 130.10 340.77 222.69A106.70 106.70 0 0 1 336.94 220.39Q393.80 130.10 289.67 153.38Z" fill="#ee8a2c" stroke="#b96b22" stroke-width="0.55" stroke-linejoin="round"/>
<path d="M312.06 198.69A106.70 106.70 0 0 1 308.59 194.31Q393.80 130.10 427.66 231.29A106.70 106.70 0 0 1 423.03 232.72Q393.80 130.10 312.06 198.69Z" fill="#f2e22e" stroke="#bcb023" stroke-width="0.55" stroke-linejoin="round"/>
<path d="M490.35 175.53A106.70 106.70 0 0 1 487.48 181.18Q393.80 130.10 305.24 189.61A106.70 106.70 0 0 1 302.92 186.01Q393.80 130.10 490.35 175.53Z" fill="#2ee0ea" stroke="#23aeb6" stroke-width="0.55" stroke-linejoin="round"/>
<path d="M288.59 147.89A106.70 106.70 0 0 1 287.76 141.99Q393.80 130.10 432.39 229.58A106.70 106.70 0 0 1 427.66 231.29Q393.80 130.10 288.59 147.89Z" fill="#ee8a2c" stroke="#b96b22" stroke-width="0.55" stroke-linejoin="round"/>
<path d="M292.91 164.84A106.70 106.70 0 0 1 291.23 159.51Q393.80 130.10 287.30 123.59A106.70 106.70 0 0 1 287.79 118.02Q393.80 130.10 292.91 164.84Z" fill="#ee8a2c" stroke="#b96b22" stroke-width="0.55" stroke-linejoin="round"/>
<path d="M291.23 159.51A106.70 106.70 0 0 1 289.67 153.38Q393.80 130.10 308.59 194.31A106.70 106.70 0 0 1 305.24 189.61Q393.80 130.10 291.23 159.51Z" fill="#ee8a2c" stroke="#b96b22" stroke-width="0.55" stroke-linejoin="round"/>
<path d="M458.46 45.22A106.70 106.70 0 0 1 465.20 50.81Q393.80 130.10 332.90 217.72A106.70 106.70 0 0 1 329.29 215.09Q393.80 130.10 458.46 45.22Z" fill="#8c30ea" stroke="#6d25b6" stroke-width="0.55" stroke-linejoin="round"/>
<path d="M450.82 39.91A106.70 106.70 0 0 1 458.46 45.22Q393.80 130.10 287.37 137.73A106.70 106.70 0 0 1 287.10 129.91Q393.80 130.10 450.82 39.91Z" fill="#8c30ea" stroke="#6d25b6" stroke-width="0.55" stroke-linejoin="round"/>
<path d="M349.72 227.27A106.70 106.70 0 0 1 340.77 222.69Q393.80 130.10 423.03 232.72A106.70 106.70 0 0 1 414.52 234.77Q393.80 130.10 349.72 227.27Z" fill="#3ade3a" stroke="#2dad2d" stroke-width="0.55" stroke-linejoin="round"/>
<path d="M392.50 23.41A106.70 106.70 0 0 1 403.10 23.81Q393.80 130.10 377.11 24.71A106.70 106.70 0 0 1 387.29 23.60Q393.80 130.10 392.50 23.41Z" fill="#ea30ea" stroke="#b625b6" stroke-width="0.55" stroke-linejoin="round"/>
<path d="M358.71 230.86A106.70 106.70 0 0 1 349.72 227.27Q393.80 130.10 290.18 104.65A106.70 106.70 0 0 1 293.47 93.78Q393.80 130.10 358.71 230.86Z" fill="#3ade3a" stroke="#2dad2d" stroke-width="0.55" stroke-linejoin="round"/>
<path d="M487.48 181.18A106.70 106.70 0 0 1 480.12 192.82Q393.80 130.10 414.52 234.77A106.70 106.70 0 0 1 401.43 236.53Q393.80 130.10 487.48 181.18Z" fill="#2ee0ea" stroke="#23aeb6" stroke-width="0.55" stroke-linejoin="round"/>
<path d="M326.07 212.55A106.70 106.70 0 0 1 315.51 202.60Q393.80 130.10 287.79 118.02A106.70 106.70 0 0 1 290.18 104.65Q393.80 130.10 326.07 212.55Z" fill="#f2e22e" stroke="#bcb023" stroke-width="0.55" stroke-linejoin="round"/>
<path d="M486.67 77.56A106.70 106.70 0 0 1 493.94 93.26Q393.80 130.10 302.92 186.01A106.70 106.70 0 0 1 296.02 172.82Q393.80 130.10 486.67 77.56Z" fill="#2e86ea" stroke="#2368b6" stroke-width="0.55" stroke-linejoin="round"/>
<path d="M480.12 192.82A106.70 106.70 0 0 1 467.38 207.37Q393.80 130.10 500.41 125.63A106.70 106.70 0 0 1 499.70 143.10Q393.80 130.10 480.12 192.82Z" fill="#2ee0ea" stroke="#23aeb6" stroke-width="0.55" stroke-linejoin="round"/>
<path d="M498.85 148.81A106.70 106.70 0 0 1 492.16 171.45Q393.80 130.10 306.72 68.44A106.70 106.70 0 0 1 322.40 50.81Q393.80 130.10 498.85 148.81Z" fill="#2ee0ea" stroke="#23aeb6" stroke-width="0.55" stroke-linejoin="round"/>
<path d="M470.42 55.85A106.70 106.70 0 0 1 486.67 77.56Q393.80 130.10 322.40 50.81A106.70 106.70 0 0 1 346.02 34.69Q393.80 130.10 470.42 55.85Z" fill="#2e86ea" stroke="#2368b6" stroke-width="0.55" stroke-linejoin="round"/>
<path d="M458.75 214.75A106.70 106.70 0 0 1 432.39 229.58Q393.80 130.10 293.47 93.78A106.70 106.70 0 0 1 306.72 68.44Q393.80 130.10 458.75 214.75Z" fill="#2ee28c" stroke="#23b06d" stroke-width="0.55" stroke-linejoin="round"/>
<path d="M423.93 27.74A106.70 106.70 0 0 1 450.82 39.91Q393.80 130.10 346.02 34.69A106.70 106.70 0 0 1 377.11 24.71Q393.80 130.10 423.93 27.74Z" fill="#8c30ea" stroke="#6d25b6" stroke-width="0.55" stroke-linejoin="round"/>
<path d="M493.94 93.26A106.70 106.70 0 0 1 500.41 125.63Q393.80 130.10 401.43 236.53A106.70 106.70 0 0 1 370.52 234.23Q393.80 130.10 493.94 93.26Z" fill="#2e86ea" stroke="#2368b6" stroke-width="0.55" stroke-linejoin="round"/>
<g font-family="Liberation Sans, Arial, sans-serif" font-weight="bold" font-size="7.6" fill="#111" stroke="#111" stroke-width="0.3">
<path d="M270.47 123.64A123.50 123.50 0 0 1 388.41 6.72" fill="none" stroke="#ee7f78" stroke-width="0.9" stroke-dasharray="0.9 2.2"/>
<path d="M397.03 6.64A123.50 123.50 0 0 1 418.00 8.99" fill="none" stroke="#666" stroke-width="0.55"/>
<path d="M426.39 10.98A123.50 123.50 0 0 1 475.47 37.46" fill="none" stroke="#666" stroke-width="0.55"/>
<path d="M481.74 43.38A123.50 123.50 0 0 1 516.62 143.01" fill="none" stroke="#8a9498" stroke-width="0.9" stroke-dasharray="0.9 2.2"/>
<path d="M515.42 151.55A123.50 123.50 0 0 1 477.24 221.15" fill="none" stroke="#c08a84" stroke-width="0.55"/>
<path d="M470.68 226.75A123.50 123.50 0 0 1 361.84 249.39" fill="none" stroke="#c79f98" stroke-width="0.9" stroke-dasharray="0.9 2.2"/>
<path d="M353.59 246.87A123.50 123.50 0 0 1 320.51 229.50" fill="none" stroke="#666" stroke-width="0.55"/>
<path d="M313.76 224.15A123.50 123.50 0 0 1 279.05 175.76" fill="none" stroke="#666" stroke-width="0.55"/>
<path d="M276.15 167.65A123.50 123.50 0 0 1 270.32 132.26" fill="none" stroke="#666" stroke-width="0.55"/>
<text transform="translate(316.71 52.33) rotate(45.25) scale(0.74 1)" text-anchor="end" dy="2.7" stroke-linejoin="round">ASXL1</text>
<text transform="translate(406.01 21.28) rotate(-83.60) scale(0.74 1)" text-anchor="start" dy="2.7" stroke-linejoin="round">ZRSR2</text>
<text transform="translate(445.80 33.73) rotate(-61.65) scale(0.74 1)" text-anchor="start" dy="2.7" stroke-linejoin="round">U2AF1</text>
<text transform="translate(497.15 93.91) rotate(-19.30) scale(0.74 1)" text-anchor="start" dy="2.7" stroke-linejoin="round">SRSF2</text>
<text transform="translate(489.80 182.77) rotate(28.75) scale(0.74 1)" text-anchor="start" dy="2.7" stroke-linejoin="round">SF3B1</text>
<text transform="translate(416.10 237.31) rotate(78.25) scale(0.74 1)" text-anchor="start" dy="2.7" stroke-linejoin="round">RUNX1</text>
<text transform="translate(342.90 227.05) rotate(-62.30) scale(0.74 1)" text-anchor="end" dy="2.7" stroke-linejoin="round">NRAS</text>
<text transform="translate(304.82 193.92) rotate(-35.65) scale(0.74 1)" text-anchor="end" dy="2.7" stroke-linejoin="round">IDH1</text>
<text transform="translate(285.75 147.89) rotate(-9.35) scale(0.74 1)" text-anchor="end" dy="2.7" stroke-linejoin="round">DNMT3A</text>
</g>
</svg></body></html>
